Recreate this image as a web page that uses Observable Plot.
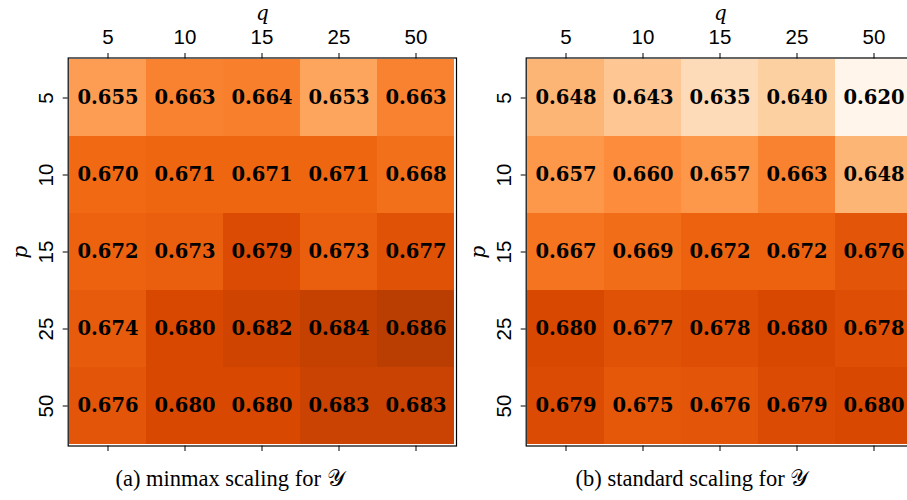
<!DOCTYPE html>
<html><head><meta charset="utf-8">
<script src="https://cdn.jsdelivr.net/npm/d3@7"></script>
<script src="https://cdn.jsdelivr.net/npm/@observablehq/plot@0.6"></script>
<style>
html,body{margin:0;padding:0;background:#fff;overflow:hidden;}
#wrap{position:relative;width:907px;height:500px;overflow:hidden;}
.panel{position:absolute;top:0;}
.cap{position:absolute;top:465px;font-family:"Liberation Serif",serif;font-size:22.5px;text-align:center;width:400px;line-height:27px;white-space:nowrap;}
g[aria-label="x-axis label"] text, g[aria-label="y-axis label"] text{font-family:"DejaVu Serif",serif;font-style:italic;font-size:20px;}
</style>
</head><body>
<div id="wrap"></div>
<script>
const qLabels = ["5","10","15","25","50"];
const pLabels = ["5","10","15","25","50"];
const minmaxValues = [
  [0.655,0.663,0.664,0.653,0.663],
  [0.670,0.671,0.671,0.671,0.668],
  [0.672,0.673,0.679,0.673,0.677],
  [0.674,0.680,0.682,0.684,0.686],
  [0.676,0.680,0.680,0.683,0.683]
];
const standardValues = [
  [0.648,0.643,0.635,0.640,0.620],
  [0.657,0.660,0.657,0.663,0.648],
  [0.667,0.669,0.672,0.672,0.676],
  [0.680,0.677,0.678,0.680,0.678],
  [0.679,0.675,0.676,0.679,0.680]
];
const captions = ["(a) minmax scaling for 𝒴", "(b) standard scaling for 𝒴"];

// Oranges colormap stops (ColorBrewer 9-class), color domain [0.62, 0.70]
const oranges = ["#fff5eb","#fee6ce","#fdd0a2","#fdae6b","#fd8d3c","#f16913","#d94801","#a63603","#7f2704"];
const cmin = 0.62, cmax = 0.70;
const stops = oranges.map((_, i) => cmin + (cmax - cmin) * i / (oranges.length - 1));

function makePanel(values, offsetX, caption, capCenter) {
  const data = [];
  pLabels.forEach((p, i) => qLabels.forEach((q, j) => data.push({p, q, v: values[i][j]})));
  const svg = Plot.plot({
    width: 460, height: 462,
    marginLeft: 67.7, marginRight: 4, marginTop: 57.5, marginBottom: 16.5,
    style: {fontFamily: "Liberation Sans, sans-serif", fontSize: "20.5px", background: "transparent", color: "#000", overflow: "visible"},
    x: {type: "band", domain: qLabels, padding: 0},
    y: {type: "band", domain: pLabels, padding: 0},
    color: {type: "linear", domain: stops, range: oranges, interpolate: "rgb"},
    marks: [
      Plot.cell(data, {x: "q", y: "p", fill: "v"}),
      Plot.text(data, {x: "q", y: "p", text: d => d.v.toFixed(3), fontFamily: "DejaVu Serif, serif", fontWeight: "bold", fontSize: 19.5, fill: "black"}),
      Plot.frame({stroke: "black", strokeWidth: 1.2}),
      Plot.axisX({anchor: "top", tickSize: 5.5, tickPadding: 9, label: "q", labelAnchor: "center", labelOffset: 52}),
      Plot.axisX({anchor: "bottom", tickSize: 5.5, tickFormat: () => "", label: null}),
      Plot.axisY({anchor: "left", tickSize: 5, tickPadding: 10, tickRotate: -90, label: "p", labelAnchor: "center", labelOffset: 55})
    ]
  });
  svg.classList.add("panel");
  svg.style.left = offsetX + "px";
  document.getElementById("wrap").appendChild(svg);
  const cap = document.createElement("div");
  cap.className = "cap";
  cap.textContent = caption;
  cap.style.left = (capCenter - 200) + "px";
  document.getElementById("wrap").appendChild(cap);
}
makePanel(minmaxValues, 0, captions[0], 230);
makePanel(standardValues, 458, captions[1], 692);
</script>
</body></html>
